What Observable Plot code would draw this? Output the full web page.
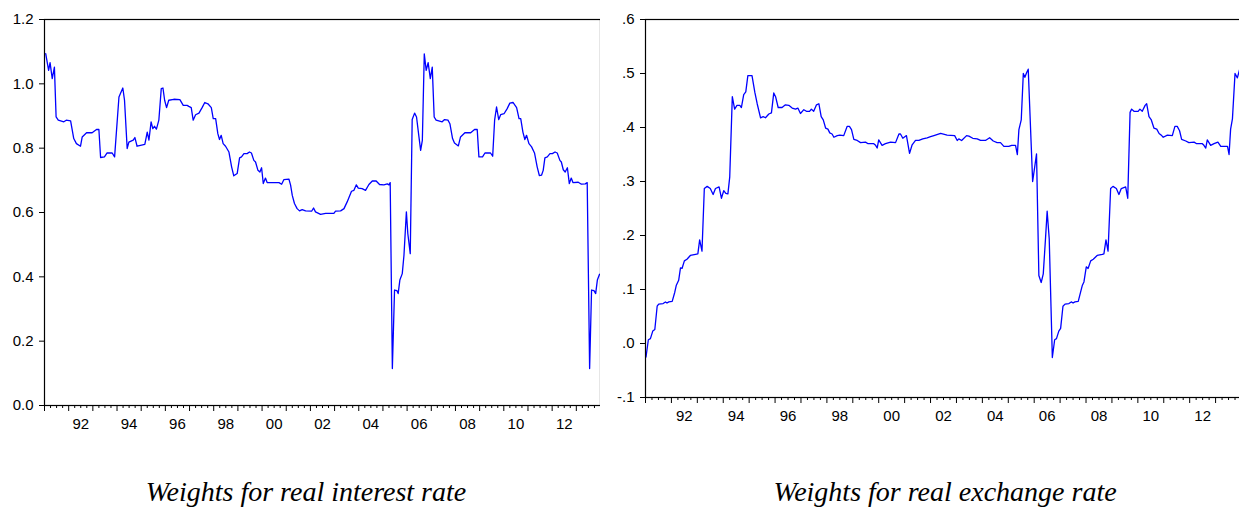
<!DOCTYPE html>
<html><head><meta charset="utf-8">
<script src="https://cdn.jsdelivr.net/npm/d3@7"></script>
<script src="https://cdn.jsdelivr.net/npm/@observablehq/plot@0.6"></script>
<style>
html,body{margin:0;padding:0;background:#fff}
body{width:1239px;height:508px;overflow:hidden;position:relative}
#left{position:absolute;left:0;top:0;width:620px;height:440px}
#right{position:absolute;left:600px;top:0;width:660px;height:440px}
#left svg,#right svg{max-width:none !important}
.title{position:absolute;top:476px;font-family:"Liberation Serif","Times New Roman",serif;font-style:italic;font-size:28px;line-height:32px;white-space:nowrap;transform:translateX(-50%);color:#000}
</style>
</head><body>
<div id="left"></div>
<div id="right"></div>
<div class="title" style="left:306px">Weights for real interest rate</div>
<div class="title" style="left:945px">Weights for real exchange rate</div>
<script>
// ---- Data: weights for real interest rate (decimal year, value) ----
const rirYear = [1991.05,1991.17,1991.23,1991.32,1991.41,1991.48,1991.57,1991.80,1991.90,1992.08,1992.21,1992.32,1992.49,1992.56,1992.74,1992.97,1993.15,1993.25,1993.32,1993.48,1993.59,1993.80,1993.90,1994.08,1994.24,1994.31,1994.42,1994.49,1994.67,1994.74,1994.83,1994.97,1995.15,1995.25,1995.32,1995.41,1995.48,1995.55,1995.63,1995.73,1995.83,1995.90,1995.97,1996.05,1996.14,1996.35,1996.60,1996.74,1996.90,1996.97,1997.07,1997.15,1997.25,1997.39,1997.52,1997.63,1997.76,1997.90,1997.98,1998.08,1998.17,1998.24,1998.31,1998.39,1998.49,1998.63,1998.74,1998.83,1998.97,1999.07,1999.15,1999.25,1999.38,1999.48,1999.56,1999.66,1999.73,1999.83,1999.91,1999.98,2000.05,2000.14,2000.21,2000.42,2000.70,2000.81,2000.90,2001.11,2001.18,2001.25,2001.34,2001.45,2001.55,2001.66,2001.80,2002.05,2002.13,2002.21,2002.42,2002.63,2002.97,2003.04,2003.25,2003.39,2003.52,2003.70,2003.80,2003.90,2003.98,2004.14,2004.28,2004.42,2004.56,2004.72,2004.86,2005.04,2005.18,2005.25,2005.30,2005.39,2005.48,2005.58,2005.63,2005.70,2005.80,2005.87,2005.97,2006.03,2006.13,2006.21,2006.31,2006.39,2006.49,2006.56,2006.63,2006.71,2006.79,2006.87,2006.96,2007.04,2007.12,2007.20,2007.45,2007.55,2007.69,2007.77,2007.88,2007.96,2008.12,2008.21,2008.39,2008.63,2008.79,2008.90,2008.97,2009.12,2009.22,2009.45,2009.54,2009.62,2009.70,2009.79,2009.87,2010.01,2010.14,2010.25,2010.38,2010.53,2010.63,2010.70,2010.79,2010.87,2010.94,2011.04,2011.15,2011.27,2011.38,2011.47,2011.56,2011.63,2011.70,2011.80,2011.91,2012.01,2012.12,2012.21,2012.32,2012.38,2012.46,2012.54,2012.63,2012.71,2012.79,2012.86,2013.08,2013.21,2013.37,2013.45,2013.55,2013.63,2013.73,2013.80,2013.87,2013.96];
const rirValue = [1.094,1.042,1.066,1.016,1.052,0.897,0.887,0.882,0.887,0.885,0.830,0.814,0.806,0.835,0.848,0.848,0.858,0.858,0.771,0.773,0.785,0.785,0.773,0.959,0.987,0.949,0.799,0.819,0.825,0.833,0.806,0.809,0.812,0.850,0.825,0.882,0.861,0.868,0.859,0.887,0.985,0.987,0.949,0.926,0.949,0.952,0.951,0.933,0.933,0.930,0.926,0.887,0.904,0.909,0.926,0.942,0.938,0.926,0.892,0.892,0.845,0.827,0.840,0.814,0.806,0.788,0.742,0.714,0.721,0.770,0.773,0.783,0.783,0.788,0.785,0.762,0.757,0.731,0.726,0.739,0.690,0.707,0.693,0.693,0.693,0.688,0.702,0.704,0.685,0.653,0.628,0.612,0.605,0.609,0.605,0.604,0.614,0.602,0.594,0.597,0.597,0.604,0.605,0.612,0.633,0.666,0.669,0.686,0.676,0.674,0.669,0.687,0.698,0.698,0.687,0.686,0.689,0.686,0.693,0.115,0.359,0.357,0.348,0.390,0.410,0.467,0.602,0.534,0.472,0.889,0.909,0.897,0.835,0.793,0.824,1.093,1.042,1.066,1.016,1.052,0.897,0.887,0.882,0.889,0.887,0.876,0.830,0.816,0.807,0.835,0.848,0.848,0.858,0.858,0.773,0.773,0.785,0.785,0.775,0.887,0.928,0.889,0.904,0.907,0.923,0.940,0.942,0.926,0.892,0.892,0.850,0.827,0.840,0.814,0.804,0.785,0.742,0.715,0.716,0.731,0.770,0.773,0.783,0.783,0.788,0.785,0.762,0.757,0.733,0.726,0.739,0.690,0.707,0.693,0.694,0.688,0.689,0.693,0.115,0.359,0.357,0.348,0.390,0.408];

// ---- Data: weights for real exchange rate (decimal year, value) ----
const rerYear = [1991.02,1991.11,1991.19,1991.28,1991.36,1991.45,1991.51,1991.68,1991.77,1991.83,1991.90,1992.03,1992.13,1992.19,1992.28,1992.35,1992.41,1992.50,1992.60,1992.73,1992.93,1993.02,1993.09,1993.18,1993.27,1993.38,1993.50,1993.61,1993.70,1993.84,1993.93,1994.02,1994.10,1994.18,1994.25,1994.35,1994.44,1994.53,1994.64,1994.70,1994.79,1994.87,1994.95,1995.11,1995.22,1995.31,1995.44,1995.54,1995.63,1995.76,1995.86,1995.95,1996.02,1996.12,1996.27,1996.40,1996.53,1996.66,1996.79,1996.88,1996.98,1997.11,1997.21,1997.33,1997.40,1997.49,1997.60,1997.69,1997.78,1997.86,1997.95,1998.04,1998.11,1998.20,1998.27,1998.40,1998.50,1998.65,1998.78,1998.87,1998.95,1999.04,1999.17,1999.30,1999.49,1999.59,1999.81,1999.88,1999.94,2000.00,2000.13,2000.26,2000.46,2000.65,2000.78,2000.84,2000.93,2001.07,2001.19,2001.29,2001.42,2001.55,2001.70,2001.87,2002.00,2002.13,2002.39,2002.64,2002.93,2003.03,2003.09,2003.20,2003.39,2003.48,2003.63,2003.80,2003.93,2004.12,2004.28,2004.42,2004.57,2004.70,2004.83,2005.02,2005.13,2005.28,2005.35,2005.41,2005.50,2005.58,2005.64,2005.71,2005.77,2005.94,2006.02,2006.09,2006.18,2006.27,2006.35,2006.44,2006.50,2006.58,2006.70,2006.79,2006.86,2006.95,2007.02,2007.11,2007.19,2007.34,2007.43,2007.50,2007.57,2007.70,2007.79,2007.86,2007.92,2008.01,2008.08,2008.18,2008.28,2008.43,2008.63,2008.69,2008.77,2008.85,2008.95,2009.04,2009.17,2009.27,2009.36,2009.53,2009.61,2009.70,2009.76,2009.85,2010.01,2010.08,2010.17,2010.28,2010.34,2010.43,2010.52,2010.62,2010.73,2010.82,2010.92,2010.98,2011.14,2011.33,2011.43,2011.52,2011.61,2011.69,2011.85,2011.97,2012.17,2012.27,2012.49,2012.55,2012.62,2012.68,2012.81,2012.94,2013.09,2013.20,2013.39,2013.46,2013.52,2013.58,2013.65,2013.75,2013.84,2013.93];
const rerValue = [-0.025,0.007,0.009,0.023,0.026,0.069,0.073,0.074,0.077,0.075,0.077,0.078,0.095,0.108,0.117,0.140,0.139,0.153,0.156,0.163,0.165,0.166,0.192,0.171,0.287,0.291,0.287,0.276,0.287,0.290,0.269,0.283,0.278,0.277,0.308,0.457,0.434,0.441,0.441,0.437,0.461,0.466,0.496,0.496,0.465,0.444,0.418,0.420,0.418,0.425,0.427,0.464,0.457,0.437,0.437,0.442,0.441,0.436,0.434,0.436,0.426,0.433,0.430,0.430,0.434,0.430,0.442,0.444,0.420,0.414,0.399,0.397,0.390,0.388,0.382,0.385,0.386,0.385,0.402,0.402,0.396,0.378,0.376,0.372,0.373,0.370,0.370,0.367,0.362,0.377,0.367,0.370,0.373,0.372,0.388,0.388,0.380,0.385,0.352,0.368,0.376,0.376,0.379,0.381,0.383,0.385,0.389,0.386,0.385,0.376,0.379,0.376,0.385,0.384,0.380,0.379,0.376,0.376,0.381,0.375,0.372,0.372,0.365,0.365,0.367,0.367,0.350,0.396,0.414,0.500,0.493,0.502,0.508,0.300,0.327,0.351,0.126,0.113,0.129,0.197,0.245,0.194,-0.026,0.007,0.009,0.023,0.028,0.069,0.073,0.074,0.077,0.075,0.077,0.078,0.095,0.108,0.114,0.142,0.139,0.153,0.156,0.163,0.165,0.166,0.192,0.171,0.287,0.291,0.287,0.276,0.287,0.290,0.269,0.428,0.434,0.430,0.430,0.434,0.430,0.441,0.444,0.420,0.414,0.399,0.397,0.389,0.385,0.382,0.386,0.385,0.402,0.402,0.394,0.378,0.375,0.372,0.373,0.370,0.370,0.367,0.362,0.377,0.367,0.370,0.373,0.365,0.365,0.365,0.350,0.397,0.416,0.500,0.492,0.508];

// ---- Axis ticks and labels ----
const xDomain = [1991, 2014];
const xLabelYears = [1992,1994,1996,1998,2000,2002,2004,2006,2008,2010,2012];
const xTickLabels = ["92","94","96","98","00","02","04","06","08","10","12"];
const leftYTicks = [0, 0.2, 0.4, 0.6, 0.8, 1.0, 1.2];
const rightYTicks = [-0.1, 0, 0.1, 0.2, 0.3, 0.4, 0.5, 0.6];

const yearTicks = d3.range(xDomain[0], xDomain[1] + 1);
const quarterTicks = d3.range(xDomain[0] * 4, xDomain[1] * 4 + 1).map(q => q / 4).filter(t => t % 1 !== 0);
const labelPos = xLabelYears.map(y => y + 0.5);
const labelOf = d => xTickLabels[labelPos.indexOf(d)];

const rirRows = rirYear.map((y, i) => ({year: y, value: rirValue[i]}));
const rerRows = rerYear.map((y, i) => ({year: y, value: rerValue[i]}));

function panel(rows, opts) {
  return Plot.plot({
    width: opts.width, height: 440,
    marginLeft: opts.ml, marginRight: opts.mr, marginTop: 19, marginBottom: opts.mb,
    x: {domain: xDomain},
    y: {domain: opts.ydomain},
    style: {fontFamily: "'Liberation Sans', Arial, sans-serif", fontSize: "15px", color: "#000", background: "#fff", maxWidth: "none"},
    marks: [
      Plot.line(rows, {x: "year", y: "value", stroke: "#0000ff", strokeWidth: 1.3}),
      Plot.axisY({ticks: opts.yticks, tickSize: 5, tickPadding: 6, tickFormat: opts.yfmt, label: null, stroke: "#000"}),
      Plot.axisX({ticks: yearTicks, tickSize: 6, tickFormat: () => "", label: null}),
      Plot.axisX({ticks: quarterTicks, tickSize: 3, tickFormat: () => "", label: null}),
      Plot.axisX({ticks: labelPos, tickSize: 0, tickPadding: 13, tickFormat: labelOf, label: null}),
      Plot.frame({stroke: "#000", strokeWidth: 1.2})
    ]
  });
}

document.getElementById("left").append(panel(rirRows, {
  width: 620, ml: 44, mr: 20, mb: 35, ydomain: [0, 1.2], yticks: leftYTicks,
  yfmt: d => d.toFixed(1)
}));
document.getElementById("right").append(panel(rerRows, {
  width: 660, ml: 45, mr: 19, mb: 43, ydomain: [-0.1, 0.6], yticks: rightYTicks,
  yfmt: d => d.toFixed(1).replace(/^(-?)0\./, "$1.")
}));
</script>
</body></html>
